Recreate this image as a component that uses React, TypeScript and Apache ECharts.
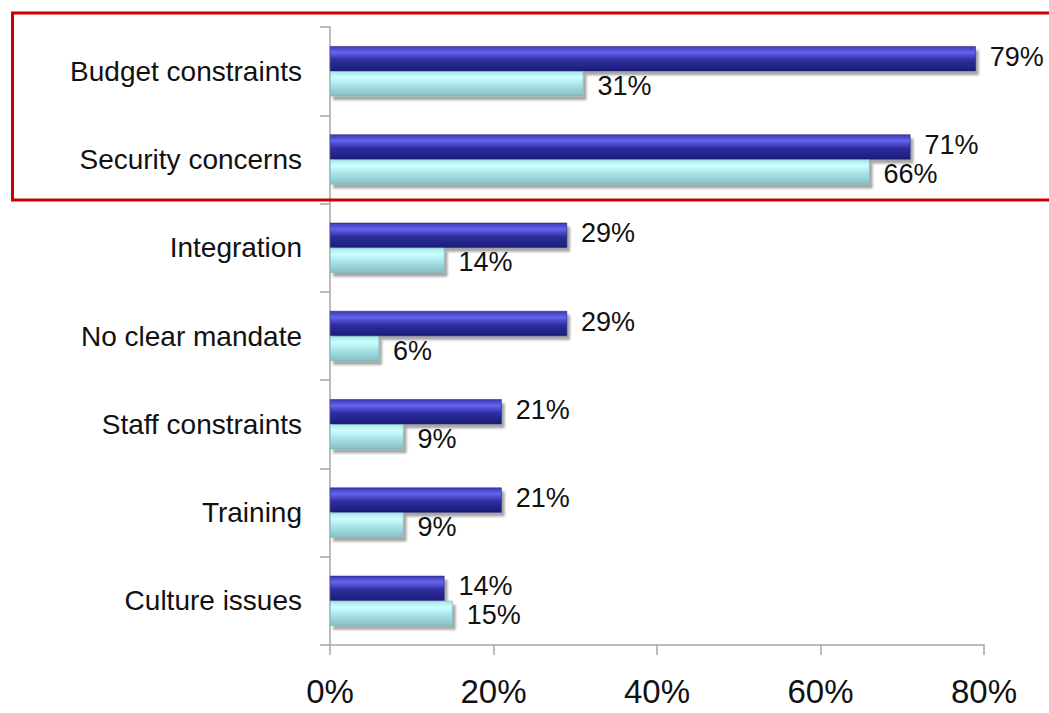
import React, { useEffect, useRef } from "react";
import * as echarts from "echarts";

const categories = [
  "Budget constraints",
  "Security concerns",
  "Integration",
  "No clear mandate",
  "Staff constraints",
  "Training",
  "Culture issues",
];
const seriesDark = [79, 71, 29, 29, 21, 21, 14];
const seriesLight = [31, 66, 14, 6, 9, 9, 15];
const xTicks = { min: 0, max: 80, interval: 20 };

const FONT = "'Liberation Sans', Arial, sans-serif";

export default function App() {
  const ref = useRef<HTMLDivElement>(null);
  useEffect(() => {
    if (!ref.current) return;
    const chart = echarts.init(ref.current, null, { renderer: "svg" });
    const darkGrad = new echarts.graphic.LinearGradient(0, 0, 0, 1, [
      { offset: 0, color: "#3a3ab8" },
      { offset: 0.25, color: "#6464ee" },
      { offset: 0.55, color: "#2e2ea0" },
      { offset: 1, color: "#1c1c78" },
    ]);
    const lightGrad = new echarts.graphic.LinearGradient(0, 0, 0, 1, [
      { offset: 0, color: "#a8e6ea" },
      { offset: 0.25, color: "#ccffff" },
      { offset: 0.6, color: "#a4e0e4" },
      { offset: 1, color: "#86c0c6" },
    ]);
    const labelBase = {
      show: true,
      position: "right" as const,
      distance: 14,
      formatter: "{c}%",
      fontFamily: FONT,
      fontSize: 27,
      lineHeight: 22,
      color: "#111",
    };
    chart.setOption({
      animation: false,
      textStyle: { fontFamily: FONT },
      grid: { left: 330, right: 65, top: 27, bottom: 68, containLabel: false },
      xAxis: {
        type: "value",
        min: xTicks.min,
        max: xTicks.max,
        interval: xTicks.interval,
        axisLine: { show: true, lineStyle: { color: "#a6a6a6", width: 1.5 } },
        axisTick: { show: true, length: 10, lineStyle: { color: "#a6a6a6", width: 1.5 } },
        splitLine: { show: false },
        axisLabel: {
          formatter: "{value}%",
          fontSize: 33,
          fontFamily: FONT,
          color: "#111",
          margin: 30,
        },
      },
      yAxis: {
        type: "category",
        data: categories,
        inverse: true,
        axisLine: { show: true, lineStyle: { color: "#a6a6a6", width: 1.5 } },
        axisTick: { show: true, length: 10, lineStyle: { color: "#a6a6a6", width: 1.5 } },
        axisLabel: {
          fontSize: 28,
          fontFamily: FONT,
          color: "#111",
          margin: 28,
        },
      },
      series: [
        {
          type: "bar",
          name: "A",
          data: seriesDark,
          barWidth: 25,
          barGap: "0%",
          itemStyle: {
            color: darkGrad,
            borderColor: "#1a1a6a",
            borderWidth: 0.5,
            shadowColor: "rgba(0,0,0,0.35)",
            shadowOffsetX: 3,
            shadowOffsetY: 4,
            shadowBlur: 2,
          },
          label: { ...labelBase, offset: [0, -2] },
        },
        {
          type: "bar",
          name: "B",
          data: seriesLight,
          barWidth: 25,
          barGap: "0%",
          itemStyle: {
            color: lightGrad,
            borderColor: "#6fa8ae",
            borderWidth: 0.5,
            shadowColor: "rgba(0,0,0,0.35)",
            shadowOffsetX: 3,
            shadowOffsetY: 4,
            shadowBlur: 2,
          },
          label: { ...labelBase, offset: [0, 2] },
        },
      ],
      graphic: [
        {
          type: "rect",
          shape: { x: 12.5, y: 13, width: 1045, height: 187 },
          style: { fill: "none", stroke: "#cc0000", lineWidth: 3 },
          z: 100,
        },
      ],
    });
    return () => chart.dispose();
  }, []);
  return (
    <div
      ref={ref}
      style={{ position: "fixed", left: 0, top: 0, width: 1049, height: 713, background: "#fff" }}
    />
  );
}
